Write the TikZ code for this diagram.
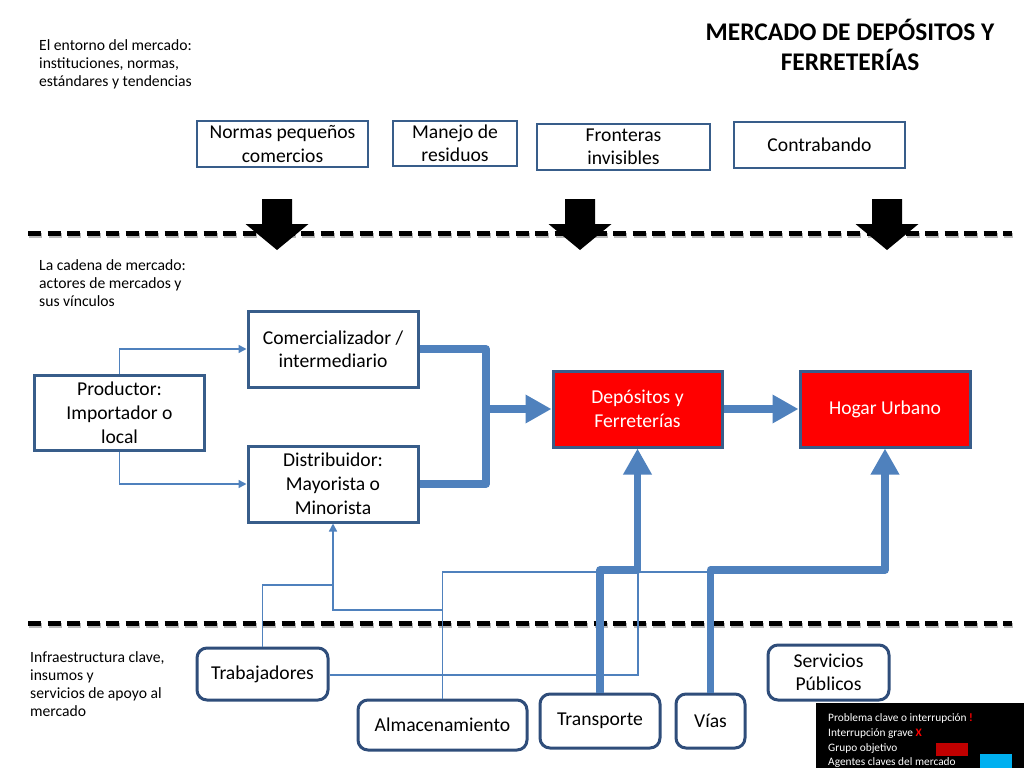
\documentclass[tikz,border=0pt]{standalone}
\usepackage{fontspec}
\setmainfont{Carlito}
\usetikzlibrary{arrows.meta}
\definecolor{boxblue}{HTML}{385D8A}
\definecolor{botblue}{HTML}{2F4D7A}
\definecolor{lineblue}{HTML}{4F81BD}
\definecolor{legred}{HTML}{C00000}
\definecolor{legcyan}{HTML}{00B0F0}
\tikzset{
  boxfont/.style={font=\fontsize{19.7}{23.5}\selectfont},
  topbox/.style={draw=boxblue, line width=2.4bp, fill=white, align=center, inner sep=0pt, boxfont},
  midbox/.style={draw=boxblue, line width=3bp, fill=white, align=center, inner sep=0pt, boxfont},
  redbox/.style={midbox, fill=red, text=white},
  botbox/.style={draw=botblue, line width=3bp, rounded corners=10bp, fill=white, align=center, inner sep=0pt, boxfont},
  thinline/.style={draw=lineblue, line width=1.5bp},
  thinarrow/.style={thinline, -{Triangle[width=8bp,length=8bp]}},
  thickline/.style={draw=lineblue, line width=7.5bp, line join=round},
  thickarrow/.style={thickline, -{Triangle[width=27bp,length=26bp]}},
  sidelabel/.style={font=\fontsize{15.7}{18.2}\selectfont, align=left, anchor=north west, inner sep=0pt},
  legtext/.style={font=\fontsize{11.4}{12}\selectfont, text=white, anchor=west, inner sep=0pt},
  divider/.style={line width=5bp, dash pattern=on 13bp off 6.5bp},
  pics/downarrow/.style={code={
    \fill[black] (-15,-26) -- (15,-26) -- (15,-1) -- (31.5,-1) -- (0,25) -- (-31.5,-1) -- (-15,-1) -- cycle;
  }}
}
\begin{document}
\begin{tikzpicture}[x=1bp,y=-1bp]
\useasboundingbox[fill=white] (0,0) rectangle (1024,768);

% title and side labels
\node[font=\bfseries\fontsize{25.5}{30}\selectfont, align=center] (title) at (850,44.5) {MERCADO DE DEPÓSITOS Y\\FERRETERÍAS};
\node[sidelabel] (lab1) at (39,39) {El entorno del mercado:\\instituciones, normas,\\estándares y tendencias};
\node[sidelabel] (lab2) at (39,259) {La cadena de mercado:\\actores de mercados y\\sus vínculos};
\node[sidelabel] (lab3) at (30,651) {Infraestructura clave,\\insumos y\\servicios de apoyo al\\mercado};

% dividers
\coordinate (d1a) at (28,233); \coordinate (d1b) at (1012,233);
\coordinate (d2a) at (28,623); \coordinate (d2b) at (1012,623);
\draw[divider, gray!55] ([shift={(1,2.5)}]d1a) -- ([shift={(1,2.5)}]d1b);
\draw[divider, gray!55] ([shift={(1,2.5)}]d2a) -- ([shift={(1,2.5)}]d2b);
\draw[divider, black] (d1a) -- (d1b);
\draw[divider, black] (d2a) -- (d2b);

% environment boxes
\node[topbox, minimum width=171bp, minimum height=46bp] (normas) at (282.5,144) {Normas pequeños\\comercios};
\node[topbox, minimum width=124bp, minimum height=45bp] (manejo) at (455,143.5) {Manejo de\\residuos};
\node[topbox, minimum width=173bp, minimum height=46bp] (fronteras) at (623.5,147) {Fronteras\\invisibles};
\node[topbox, minimum width=171bp, minimum height=46bp] (contra) at (819.5,145) {Contrabando};

% black arrows
\pic at (277,225) {downarrow};
\pic at (580,225) {downarrow};
\pic at (887,225) {downarrow};

% market chain
\node[midbox, minimum width=169bp, minimum height=75bp, font=\fontsize{19.7}{24}\selectfont] (prod) at (119.5,413) {Productor:\\Importador o\\local};
\node[midbox, minimum width=170bp, minimum height=76bp] (com) at (333,349) {Comercializador /\\intermediario};
\node[midbox, minimum width=170bp, minimum height=76bp, font=\fontsize{19.7}{24}\selectfont] (dist) at (333,484) {Distribuidor:\\Mayorista o\\Minorista};
\node[redbox, minimum width=169bp, minimum height=76bp] (dep) at (637.5,409) {Depósitos y\\Ferreterías};
\node[redbox, minimum width=170bp, minimum height=76bp] (hogar) at (885,409) {Hogar Urbano};

% infrastructure
\node[botbox, minimum width=131bp, minimum height=52bp] (trab) at (262.5,674) {Trabajadores};
\node[botbox, minimum width=169bp, minimum height=50bp] (alm) at (442.5,725) {Almacenamiento};
\node[botbox, minimum width=120bp, minimum height=54bp] (trans) at (600,721) {Transporte};
\node[botbox, minimum width=69bp, minimum height=54bp] (vias) at (710.5,721) {Vías};
\node[botbox, minimum width=121bp, minimum height=55bp] (serv) at (828.5,672.5) {Servicios\\Públicos};

% thin connectors
\coordinate (a1) at (442.5,610);
\coordinate (a2) at (333,610);
\coordinate (a3) at (442.5,572);
\coordinate (a4) at (710.5,572);
\coordinate (w1) at (262.5,585);
\coordinate (w2) at (333,585);
\coordinate (w3) at (638,675);
\coordinate (w4) at (638,572);
\draw[thinarrow] (prod.north) |- (com.west);
\draw[thinarrow] (prod.south) |- (dist.west);
\draw[thinarrow] (alm.north) -- (a1) -- (a2) -- (dist.south);
\draw[thinline] (trab.north) |- (w2);
\draw[thinline] (a1) -- (a3) -- (a4);
\draw[thinline] (trab.east |- w3) -- (w3) -- (w4);

% thick connectors
\coordinate (j1) at (486,349);
\coordinate (j2) at (486,484);
\coordinate (j3) at (486,409);
\draw[thickline] (com.east) -- (j1) -- (j2) -- (dist.east);
\draw[thickarrow] (j3) -- (dep.west);
\draw[thickarrow] (dep.east) -- (hogar.west);
\coordinate (t1) at (600,570);
\coordinate (t2) at (637.5,570);
\draw[thickarrow] (trans.north) -- (t1) -- (t2) -- (dep.south);
\coordinate (v1) at (710.5,570);
\coordinate (v2) at (885,570);
\draw[thickarrow] (vias.north) -- (v1) -- (v2) -- (hogar.south);

% legend
\node[fill=black, minimum width=208bp, minimum height=65bp, inner sep=0pt, anchor=north west] (legend) at (816,703) {};
\node[legtext] (l1) at (828,718) {Problema clave o interrupción \textcolor{red}{\textbf{!}}};
\node[legtext] (l2) at (828,734) {Interrupción grave \textcolor{red}{\textbf{X}}};
\node[legtext] (l3) at (828,749) {Grupo objetivo};
\node[legtext] (l4) at (828,763) {Agentes claves del mercado};
\node[fill=legred, minimum width=32bp, minimum height=13bp, inner sep=0pt] (lr) at (952,749.5) {};
\node[fill=legcyan, minimum width=32bp, minimum height=14bp, inner sep=0pt, anchor=north west] (lc) at (980,754) {};
\end{tikzpicture}
\end{document}
